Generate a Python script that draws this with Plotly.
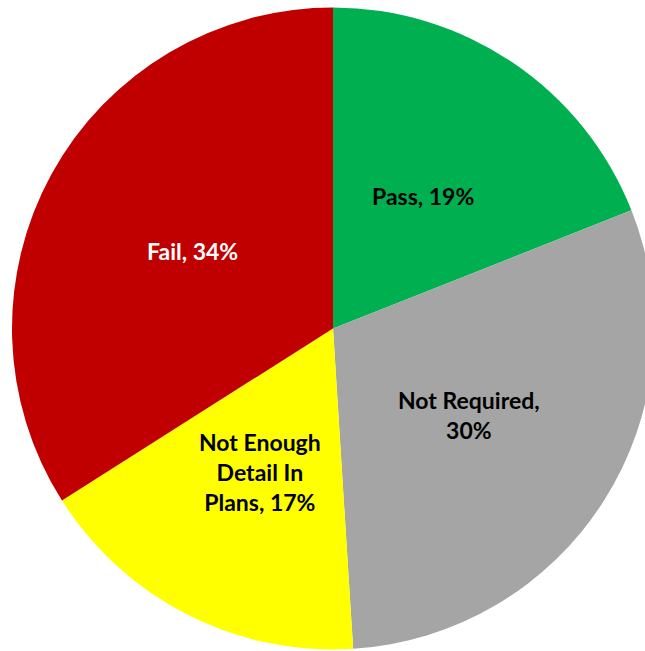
import math
import plotly.graph_objects as go

categories = ["Pass", "Not Required", "Not Enough Detail In Plans", "Fail"]
label_text = ["Pass, 19%", "Not Required,<br>30%", "Not Enough<br>Detail In<br>Plans, 17%", "Fail, 34%"]
values = [19, 30, 17, 34]
colors = ["#00B050", "#A5A5A5", "#FFFF00", "#C00000"]
text_colors = ["#000000", "#000000", "#000000", "#FFFFFF"]

W, H = 660, 651
cx, cy, R = 333, 328.5, 321
label_r = 160.5

fig = go.Figure(go.Pie(
    labels=categories,
    values=values,
    textinfo="none",
    sort=False,
    direction="clockwise",
    rotation=0,
    marker=dict(colors=colors, line=dict(width=0)),
    hoverinfo="label+percent",
    domain=dict(x=[(cx - R) / W, (cx + R) / W], y=[(H - cy - R) / H, (H - cy + R) / H]),
))

total = sum(values)
cum = 0
for txt, v, col in zip(label_text, values, text_colors):
    mid = (cum + v / 2) / total * 2 * math.pi
    cum += v
    px = cx + label_r * math.sin(mid)
    py = cy - label_r * math.cos(mid)
    fig.add_annotation(
        x=px / W, y=(H - py) / H, xref="paper", yref="paper",
        xanchor="center", yanchor="middle",
        text=txt, showarrow=False, align="center",
        font=dict(family="Lato", size=23, color=col, weight="bold"),
    )

fig.update_layout(
    width=W, height=H,
    margin=dict(l=0, r=0, t=0, b=0),
    paper_bgcolor="white",
    showlegend=False,
)
fig.write_html(
    "out.html",
    config={"displayModeBar": False},
    post_script="document.body.style.margin='0';document.body.style.overflow='hidden';",
)
